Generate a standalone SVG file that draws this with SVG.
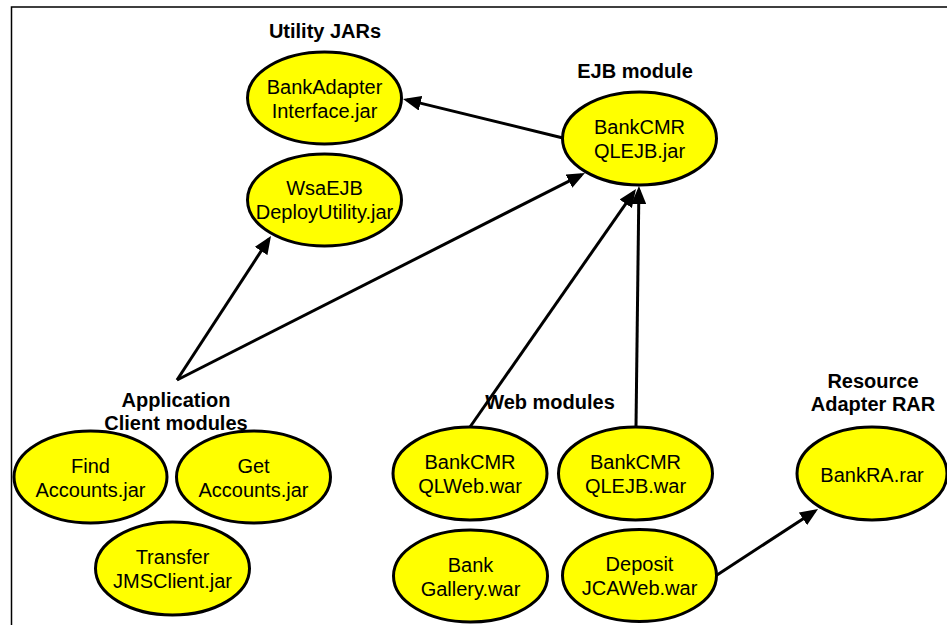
<svg xmlns="http://www.w3.org/2000/svg" width="947" height="625" viewBox="0 0 947 625">
  <defs>
    <marker id="arrow" markerUnits="userSpaceOnUse" markerWidth="18" markerHeight="15" refX="14" refY="7.5" orient="auto">
      <path d="M0,0 L18,7.5 L0,15 z" fill="#000"/>
    </marker>
  </defs>
  <style>
    .node ellipse { fill: #ffff00; stroke: #000; stroke-width: 3; }
    .node text { font-family: "Liberation Sans", Arial, sans-serif; font-size: 20px; fill: #000; text-anchor: middle; }
    .label { font-family: "Liberation Sans", Arial, sans-serif; font-size: 20px; font-weight: bold; fill: #000; text-anchor: middle; }
    .conn line { stroke: #000; stroke-width: 3; fill: none; marker-end: url(#arrow); }
  </style>
  <rect x="0" y="0" width="947" height="625" fill="#fff"/>
  <rect x="11.5" y="7" width="1000" height="700" fill="none" stroke="#000" stroke-width="1.5"/>

  <g id="labels">
    <text class="label" x="325" y="38">Utility JARs</text>
    <text class="label" x="635" y="78">EJB module</text>
    <text class="label" x="176" y="407">Application</text>
    <text class="label" x="176" y="430">Client modules</text>
    <text class="label" x="550" y="409">Web modules</text>
    <text class="label" x="873" y="388">Resource</text>
    <text class="label" x="873" y="411">Adapter RAR</text>
  </g>

  <g id="connectors" class="conn">
    <line x1="563" y1="138" x2="406.9" y2="99.9"/>
    <line x1="177" y1="380" x2="268.8" y2="239.3"/>
    <line x1="177" y1="380" x2="581.4" y2="174.8"/>
    <line x1="470" y1="427" x2="633.7" y2="192.3"/>
    <line x1="636" y1="427" x2="638.9" y2="190"/>
    <line x1="717" y1="575" x2="814.7" y2="511.2"/>
  </g>

  <g id="bankadapter" class="node">
    <ellipse cx="324.5" cy="98" rx="77" ry="46"/>
    <text x="324.5" y="94">BankAdapter</text>
    <text x="324.5" y="118">Interface.jar</text>
  </g>
  <g id="wsaejb" class="node">
    <ellipse cx="324.5" cy="200" rx="77" ry="46"/>
    <text x="324.5" y="195">WsaEJB</text>
    <text x="324.5" y="219">DeployUtility.jar</text>
  </g>
  <g id="ejbjar" class="node">
    <ellipse cx="639.5" cy="138.5" rx="77" ry="46.5"/>
    <text x="639.5" y="133.5">BankCMR</text>
    <text x="639.5" y="158">QLEJB.jar</text>
  </g>
  <g id="findaccounts" class="node">
    <ellipse cx="90.5" cy="477" rx="76.5" ry="46"/>
    <text x="90.5" y="472.5">Find</text>
    <text x="90.5" y="496.5">Accounts.jar</text>
  </g>
  <g id="getaccounts" class="node">
    <ellipse cx="253.5" cy="477" rx="77" ry="46"/>
    <text x="253.5" y="472.5">Get</text>
    <text x="253.5" y="496.5">Accounts.jar</text>
  </g>
  <g id="transfer" class="node">
    <ellipse cx="172.5" cy="568.5" rx="77" ry="46.5"/>
    <text x="172.5" y="564">Transfer</text>
    <text x="172.5" y="588">JMSClient.jar</text>
  </g>
  <g id="qlweb" class="node">
    <ellipse cx="470" cy="473.5" rx="77" ry="46.5"/>
    <text x="470" y="469">BankCMR</text>
    <text x="470" y="493">QLWeb.war</text>
  </g>
  <g id="qlejbwar" class="node">
    <ellipse cx="635.5" cy="473.5" rx="77" ry="46.5"/>
    <text x="635.5" y="469">BankCMR</text>
    <text x="635.5" y="493">QLEJB.war</text>
  </g>
  <g id="gallery" class="node">
    <ellipse cx="470.5" cy="576" rx="77" ry="46"/>
    <text x="470.5" y="571.5">Bank</text>
    <text x="470.5" y="595.5">Gallery.war</text>
  </g>
  <g id="deposit" class="node">
    <ellipse cx="639.5" cy="575.5" rx="77" ry="46"/>
    <text x="639.5" y="571">Deposit</text>
    <text x="639.5" y="595">JCAWeb.war</text>
  </g>
  <g id="bankra" class="node">
    <ellipse cx="872" cy="473.5" rx="75" ry="46.5"/>
    <text x="872" y="481.5">BankRA.rar</text>
  </g>
</svg>
